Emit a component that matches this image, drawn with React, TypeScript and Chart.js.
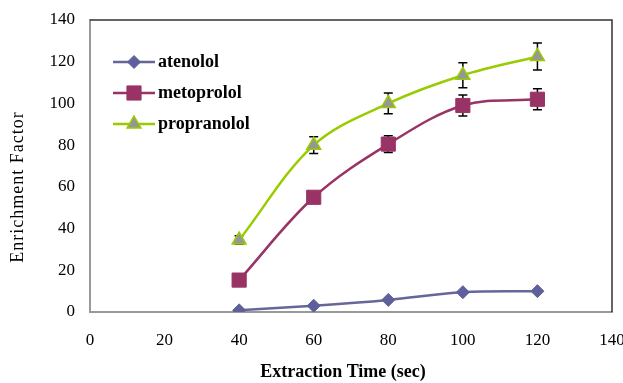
import React, { useEffect, useRef } from 'react';
import { Chart, registerables } from 'chart.js';

Chart.register(...registerables);

// ---- data ----
const times = [40, 60, 80, 100, 120];
const atenolol = [0.8, 3, 5.8, 9.5, 10];
const metoprolol = [15.3, 55, 80.5, 99, 102];
const propranolol = [34.5, 80, 100, 113.5, 122.5];
const atenololErr = [0, 0, 0, 0, 0];
const metoprololErr = [1, 1.5, 4, 5, 5];
const propranololErr = [2, 4, 5, 6, 6.5];
const seriesNames = ['atenolol', 'metoprolol', 'propranolol'];
const xTitle = 'Extraction Time (sec)';
const yTitle = 'Enrichment Factor';

const FONT = '"Liberation Serif", "Times New Roman", serif';

const toPts = (ys: number[]) => times.map((t, i) => ({ x: t, y: ys[i] }));

const errs = [atenololErr, metoprololErr, propranololErr];

const extrasPlugin = {
  id: 'extras',
  beforeDatasetsDraw(chart: any) {
    const { ctx, scales } = chart;
    const xs = scales.x;
    const ys = scales.y;
    ctx.save();
    ctx.strokeStyle = '#000';
    ctx.lineWidth = 1.5;
    chart.data.datasets.forEach((ds: any, di: number) => {
      ds.data.forEach((p: any, i: number) => {
        const e = errs[di][i];
        if (!e) return;
        const px = xs.getPixelForValue(p.x);
        const top = ys.getPixelForValue(p.y + e);
        const bot = ys.getPixelForValue(p.y - e);
        ctx.beginPath();
        ctx.moveTo(px, top);
        ctx.lineTo(px, bot);
        ctx.moveTo(px - 4.5, top);
        ctx.lineTo(px + 4.5, top);
        ctx.moveTo(px - 4.5, bot);
        ctx.lineTo(px + 4.5, bot);
        ctx.stroke();
      });
    });
    ctx.restore();
  },
  afterDraw(chart: any) {
    const { ctx, chartArea } = chart;
    ctx.save();
    // top/right frame
    ctx.strokeStyle = '#333';
    ctx.lineWidth = 1.5;
    ctx.beginPath();
    ctx.moveTo(chartArea.left, chartArea.top);
    ctx.lineTo(chartArea.right, chartArea.top);
    ctx.lineTo(chartArea.right, chartArea.bottom);
    ctx.stroke();

    // axis titles
    ctx.fillStyle = '#000';
    ctx.font = `bold 18px ${FONT}`;
    ctx.textAlign = 'center';
    ctx.textBaseline = 'middle';
    ctx.fillText(xTitle, 343, 372);

    ctx.save();
    ctx.translate(18, 187);
    ctx.rotate(-Math.PI / 2);
    ctx.font = `18px ${FONT}`;
    try { (ctx as any).letterSpacing = '1px'; } catch (e) {}
    ctx.fillText(yTitle, 0, 0);
    ctx.restore();

    // legend
    const rows = [62, 93, 124];
    ctx.font = `bold 18px ${FONT}`;
    ctx.textAlign = 'left';
    ctx.textBaseline = 'middle';
    chart.data.datasets.forEach((ds: any, i: number) => {
      const y = rows[i];
      ctx.strokeStyle = ds.borderColor;
      ctx.lineWidth = 2.5;
      ctx.beginPath();
      ctx.moveTo(113, y);
      ctx.lineTo(155, y);
      ctx.stroke();
      const style = ds.pointStyle;
      const r = ds.pointRadius;
      ctx.fillStyle = ds.pointBackgroundColor;
      ctx.strokeStyle = ds.pointBorderColor;
      ctx.lineWidth = ds.pointBorderWidth;
      ctx.beginPath();
      if (style === 'rectRot') {
        ctx.moveTo(134, y - r);
        ctx.lineTo(134 + r, y);
        ctx.lineTo(134, y + r);
        ctx.lineTo(134 - r, y);
        ctx.closePath();
      } else if (style === 'rect') {
        const h = r * Math.SQRT1_2;
        ctx.rect(134 - h, y - h, 2 * h, 2 * h);
      } else {
        const a = r * Math.sqrt(3) / 2;
        ctx.moveTo(134, y - r);
        ctx.lineTo(134 + a, y + r / 2);
        ctx.lineTo(134 - a, y + r / 2);
        ctx.closePath();
      }
      ctx.fill();
      ctx.stroke();
      ctx.fillStyle = '#000';
      ctx.fillText(seriesNames[i], 158, y);
    });
    ctx.restore();
  },
};

export default function App() {
  const ref = useRef<HTMLCanvasElement | null>(null);
  useEffect(() => {
    if (!ref.current) return;
    const chart = new Chart(ref.current, {
      type: 'line',
      data: {
        datasets: [
          {
            label: seriesNames[0],
            data: toPts(atenolol),
            borderColor: '#666699',
            borderWidth: 2.5,
            pointStyle: 'rectRot',
            pointRadius: 6.5,
            pointBackgroundColor: '#5F5F9B',
            pointBorderColor: '#5F5F9B',
            pointBorderWidth: 1,
            tension: 0.35,
          },
          {
            label: seriesNames[1],
            data: toPts(metoprolol),
            borderColor: '#993366',
            borderWidth: 2.5,
            pointStyle: 'rect',
            pointRadius: 10,
            pointBackgroundColor: '#993366',
            pointBorderColor: '#993366',
            pointBorderWidth: 1,
            tension: 0.35,
          },
          {
            label: seriesNames[2],
            data: toPts(propranolol),
            borderColor: '#99CC00',
            borderWidth: 2.5,
            pointStyle: 'triangle',
            pointRadius: 8,
            pointBackgroundColor: '#969696',
            pointBorderColor: '#99CC00',
            pointBorderWidth: 1.5,
            tension: 0.35,
          },
        ],
      },
      options: {
        responsive: false,
        animation: false,
        devicePixelRatio: 1,
        layout: { padding: { left: 0, top: 20, right: 11, bottom: 0 } },
        plugins: { legend: { display: false }, tooltip: { enabled: false } },
        scales: {
          x: {
            type: 'linear',
            min: 0,
            max: 140,
            ticks: { stepSize: 20, padding: 18, color: '#000', font: { family: FONT, size: 17 }, maxRotation: 0 },
            grid: { display: false, drawTicks: false },
            border: { color: '#999', width: 2 },
            afterFit: (s: any) => { s.height = 71; s.paddingLeft = 0; s.paddingRight = 0; },
          },
          y: {
            min: 0,
            max: 140,
            ticks: { stepSize: 20, padding: 15, color: '#000', font: { family: FONT, size: 17 } },
            grid: { display: false, drawTicks: false },
            border: { color: '#999', width: 2 },
            afterFit: (s: any) => { s.width = 90; s.paddingTop = 0; s.paddingBottom = 0; },
          },
        },
      },
      plugins: [extrasPlugin],
    });
    return () => chart.destroy();
  }, []);
  return (
    <div style={{ position: 'absolute', left: 0, top: 0, width: 623, height: 383, background: '#fff' }}>
      <canvas ref={ref} width={623} height={383} style={{ width: 623, height: 383 }} />
    </div>
  );
}
